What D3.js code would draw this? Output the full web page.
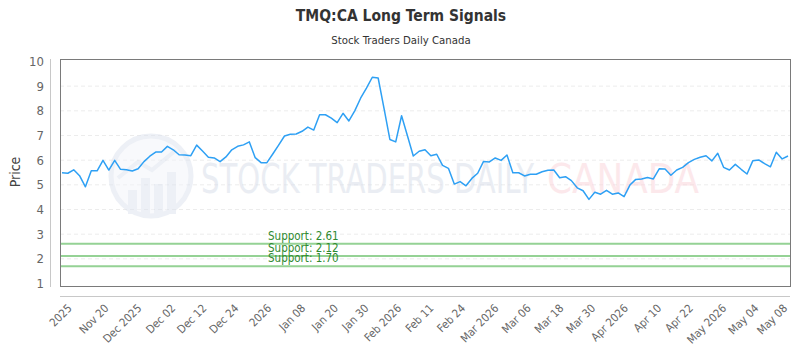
<!DOCTYPE html>
<html>
<head>
<meta charset="utf-8">
<script src="https://cdn.jsdelivr.net/npm/d3@7"></script>
<style>
  body { margin: 0; background: #fff; }
  svg { display: block; }
</style>
</head>
<body>
<div id="chart"></div>
<script>
const title = "TMQ:CA Long Term Signals";
const subtitle = "Stock Traders Daily Canada";

// closing prices, one per trading day
const prices = [
  5.49, 5.47, 5.61, 5.37, 4.92, 5.57, 5.57, 5.99, 5.60, 5.99,
  5.63, 5.61, 5.56, 5.65, 5.94, 6.16, 6.33, 6.33, 6.56, 6.42,
  6.22, 6.21, 6.18, 6.61, 6.37, 6.12, 6.09, 5.94, 6.13, 6.42,
  6.56, 6.62, 6.74, 6.10, 5.90, 5.90, 6.25, 6.61, 6.98, 7.05,
  7.06, 7.17, 7.34, 7.22, 7.84, 7.84, 7.70, 7.52, 7.90, 7.59,
  8.00, 8.51, 8.92, 9.36, 9.33, 8.10, 6.84, 6.74, 7.80, 6.99,
  6.17, 6.36, 6.42, 6.18, 6.24, 5.79, 5.67, 5.03, 5.13, 4.96,
  5.26, 5.47, 5.95, 5.93, 6.09, 5.99, 6.21, 5.49, 5.49, 5.36,
  5.43, 5.43, 5.53, 5.59, 5.60, 5.29, 5.33, 5.17, 4.88, 4.76,
  4.41, 4.70, 4.62, 4.78, 4.62, 4.67, 4.52, 4.99, 5.22, 5.24,
  5.30, 5.24, 5.65, 5.64, 5.39, 5.60, 5.71, 5.90, 6.03, 6.12,
  6.18, 5.97, 6.28, 5.71, 5.60, 5.83, 5.63, 5.44, 5.98, 6.01,
  5.86, 5.73, 6.32, 6.05, 6.17
];

const tickLabels = [
  "2025", "Nov 20", "Dec 2025", "Dec 02", "Dec 12", "Dec 24", "2026", "Jan 08",
  "Jan 20", "Jan 30", "Feb 2026", "Feb 11", "Feb 24", "Mar 2026", "Mar 06", "Mar 18",
  "Mar 30", "Apr 2026", "Apr 10", "Apr 22", "May 2026", "May 04", "May 08"
];
// data index each label sits on
const tickIndex = [
  1.8, 8.1, 13.7, 19.5, 24.8, 30.3, 35.9, 41.7,
  47.3, 52.5, 58.1, 63.6, 69.0, 74.7, 80.2, 85.8,
  91.2, 96.8, 102.5, 107.9, 113.6, 119.1, 124
];

const yTicks = [1, 2, 3, 4, 5, 6, 7, 8, 9, 10];
const supports = [2.61, 2.12, 1.70];

const width = 800, height = 350;
const plot = {left: 60, right: 790, top: 59, bottom: 286};

const svg = d3.select("#chart").append("svg")
    .attr("width", width)
    .attr("height", height)
    .style("font-family", "'DejaVu Sans Condensed', sans-serif");

svg.append("rect").attr("width", width).attr("height", height).attr("fill", "#fff");

var xScale = d3.scaleLinear()
    .domain([0, prices.length - 1])
    .range([62, 788]);

var yScale = d3.scaleLinear()
    .domain([0.9, 10.1])
    .range([plot.bottom, plot.top]);

// titles
svg.append("text")
    .attr("x", 401).attr("y", 21)
    .attr("text-anchor", "middle")
    .attr("font-size", 15.5).attr("font-weight", "bold")
    .attr("fill", "#333")
    .text(title);

svg.append("text")
    .attr("x", 401).attr("y", 44)
    .attr("text-anchor", "middle")
    .attr("font-size", 11.3)
    .attr("fill", "#333")
    .text(subtitle);

// grid
svg.append("g")
    .selectAll("line")
    .data(yTicks.filter(d => d > 1 && d < 10))
    .join("line")
    .attr("x1", plot.left).attr("x2", plot.right)
    .attr("y1", d => yScale(d)).attr("y2", d => yScale(d))
    .attr("stroke", "#ececec")
    .attr("stroke-dasharray", "4,3");

// watermark
const wm = svg.append("g").attr("opacity", 0.55);
wm.append("circle")
    .attr("cx", 151).attr("cy", 176).attr("r", 40)
    .attr("fill", "#f3f5fa").attr("stroke", "#dfe4ef").attr("stroke-width", 5);
wm.append("g")
    .selectAll("rect")
    .data([[128, 190], [141, 178], [154, 184], [167, 172]])
    .join("rect")
    .attr("x", d => d[0]).attr("y", d => d[1])
    .attr("width", 9).attr("height", d => 214 - d[1])
    .attr("fill", "#dfe4ef");
wm.append("path")
    .attr("d", "M118,178 L138,162 L152,170 L176,150")
    .attr("fill", "none").attr("stroke", "#dfe4ef").attr("stroke-width", 4);
wm.append("text")
    .attr("x", 201).attr("y", 193)
    .attr("font-size", 40)
    .attr("fill", "#d9dfeb")
    .attr("textLength", 333)
    .attr("lengthAdjust", "spacingAndGlyphs")
    .text("STOCK TRADERS DAILY");
wm.append("text")
    .attr("x", 547).attr("y", 193)
    .attr("font-size", 40)
    .attr("fill", "#fbd6dc")
    .attr("textLength", 152)
    .attr("lengthAdjust", "spacingAndGlyphs")
    .text("CANADA");

// support levels
const sup = svg.append("g");
sup.selectAll("line")
    .data(supports)
    .join("line")
    .attr("x1", plot.left).attr("x2", plot.right)
    .attr("y1", d => yScale(d)).attr("y2", d => yScale(d))
    .attr("stroke", "#95d295")
    .attr("stroke-width", 2);
sup.selectAll("text")
    .data(supports)
    .join("text")
    .attr("x", 268)
    .attr("y", d => yScale(d) - 4)
    .attr("font-size", 11.5)
    .attr("fill", "#2f8a2f")
    .text(d => "Support: " + d.toFixed(2));

// price line
const line = d3.line()
    .x((d, i) => xScale(i))
    .y(d => yScale(d));

svg.append("path")
    .attr("d", line(prices))
    .attr("fill", "none")
    .attr("stroke", "#2ea0f4")
    .attr("stroke-width", 1.5)
    .attr("stroke-linejoin", "round");

// plot frame
svg.append("rect")
    .attr("x", plot.left + 0.5).attr("y", plot.top + 0.5)
    .attr("width", plot.right - plot.left).attr("height", plot.bottom - plot.top)
    .attr("fill", "none")
    .attr("stroke", "#7a7a7a");

// y axis
svg.append("line")
    .attr("x1", 50.5).attr("x2", 50.5)
    .attr("y1", plot.top).attr("y2", plot.bottom + 1)
    .attr("stroke", "#c8c8c8");
svg.append("g")
    .selectAll("text")
    .data(yTicks)
    .join("text")
    .attr("x", 44)
    .attr("y", d => yScale(d) + 4.5)
    .attr("text-anchor", "end")
    .attr("font-size", 13)
    .attr("fill", "#666")
    .text(d => d);

svg.append("text")
    .attr("transform", "translate(20,172) rotate(-90)")
    .attr("text-anchor", "middle")
    .attr("font-size", 14)
    .attr("fill", "#444")
    .text("Price");

// x axis
svg.append("line")
    .attr("x1", plot.left).attr("x2", plot.right)
    .attr("y1", 296.5).attr("y2", 296.5)
    .attr("stroke", "#c8c8c8");
svg.append("g")
    .selectAll("text")
    .data(tickLabels)
    .join("text")
    .attr("transform", (d, i) => `translate(${xScale(tickIndex[i])},309) rotate(-45)`)
    .attr("text-anchor", "end")
    .attr("font-size", 11.3)
    .attr("fill", "#666")
    .text(d => d);
</script>
</body>
</html>
